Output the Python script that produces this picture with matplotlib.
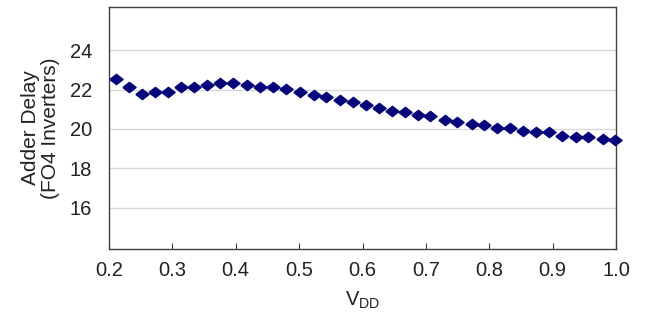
import matplotlib.pyplot as plt

plt.rcParams['font.family'] = ['Liberation Sans', 'DejaVu Sans']

vdd = [0.211, 0.232, 0.252, 0.273, 0.294, 0.313, 0.334, 0.354, 0.376, 0.396,
       0.418, 0.438, 0.459, 0.479, 0.501, 0.523, 0.543, 0.564, 0.585, 0.605,
       0.626, 0.647, 0.667, 0.688, 0.707, 0.730, 0.749, 0.772, 0.791, 0.812,
       0.832, 0.853, 0.873, 0.894, 0.914, 0.937, 0.956, 0.979, 0.998]
delay = [22.54, 22.12, 21.78, 21.86, 21.86, 22.12, 22.15, 22.25, 22.32, 22.32,
         22.25, 22.15, 22.12, 22.03, 21.86, 21.73, 21.61, 21.49, 21.35, 21.22,
         21.07, 20.93, 20.85, 20.71, 20.65, 20.47, 20.34, 20.25, 20.20, 20.03,
         20.03, 19.88, 19.83, 19.83, 19.66, 19.57, 19.57, 19.49, 19.44]

xticks = [0.2, 0.3, 0.4, 0.5, 0.6, 0.7, 0.8, 0.9, 1.0]
yticks = [16, 18, 20, 22, 24]

# slightly flattened diamond
diamond = [(-1, 0), (0, 0.78), (1, 0), (0, -0.78), (-1, 0)]

fig = plt.figure(figsize=(6.52, 3.22), dpi=100)
ax = fig.add_axes([0.167, 0.227, 0.778, 0.751])

ax.plot(vdd, delay, linestyle='none', marker=diamond, markersize=9.5,
        color='#06067a', clip_on=False, zorder=3)

ax.set_xlim(0.2, 1.0)
ax.set_ylim(13.9, 26.2)
ax.set_xticks(xticks)
ax.set_xticklabels([f'{t:.1f}' for t in xticks])
ax.set_yticks(yticks)
ax.set_yticklabels([str(t) for t in yticks])
ax.grid(axis='y', color='#d8d8d8', linewidth=1)
ax.set_axisbelow(True)

ax.tick_params(axis='x', direction='in', length=4, pad=9, labelsize=14.5,
               color='#404040', labelcolor='#222222')
ax.tick_params(axis='y', length=0, pad=12, labelsize=14.5, labelcolor='#222222')
for s in ax.spines.values():
    s.set_color('#404040')
    s.set_linewidth(1)

ax.set_xlabel(r'V$_{\mathregular{DD}}$', fontsize=14.5, labelpad=7, color='#222222')
ax.set_ylabel('Adder Delay\n(FO4 Inverters)', fontsize=15, labelpad=7,
              color='#222222', linespacing=1.1)

fig.savefig('out.png', dpi=100)
